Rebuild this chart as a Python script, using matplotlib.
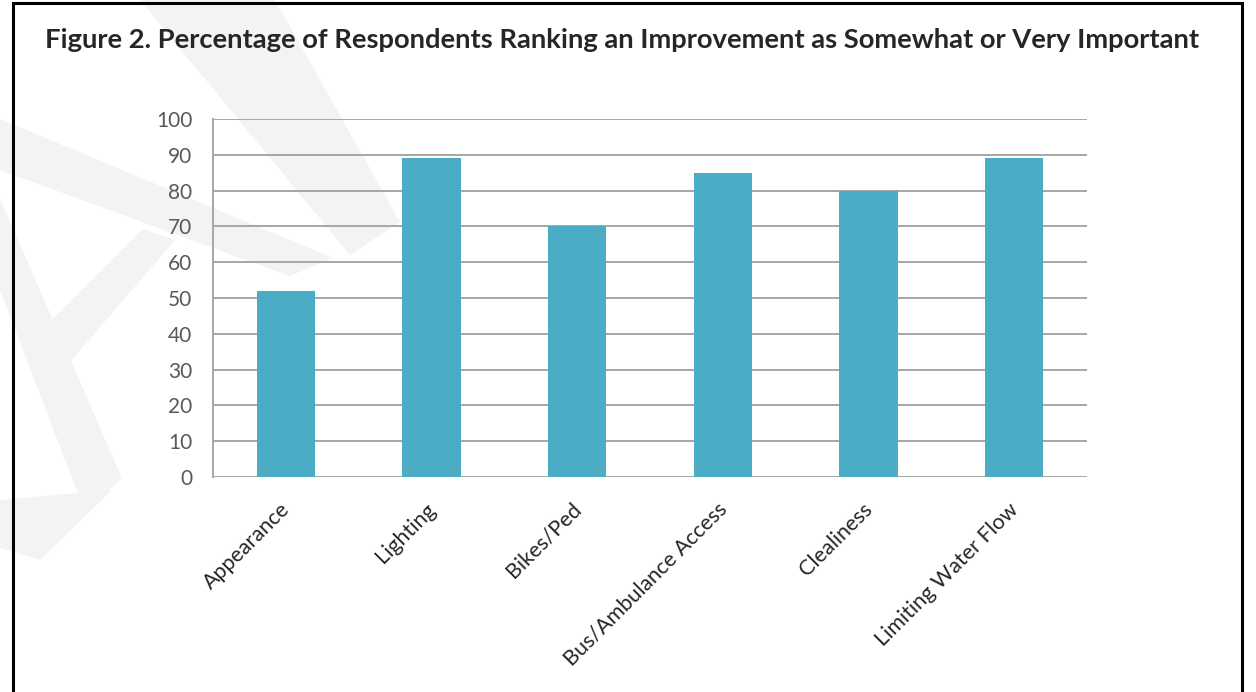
import matplotlib
matplotlib.use("Agg")
import matplotlib.pyplot as plt
from matplotlib.patches import Rectangle, Polygon
from matplotlib.transforms import ScaledTranslation

categories = ["Appearance", "Lighting", "Bikes/Ped", "Bus/Ambulance Access", "Clealiness", "Limiting Water Flow"]
values = [52, 89, 70, 85, 80, 89]
yticks = [0, 10, 20, 30, 40, 50, 60, 70, 80, 90, 100]
title = "Figure 2. Percentage of Respondents Ranking an Improvement as Somewhat or Very Important"

W, H = 1256, 692
fig = plt.figure(figsize=(W / 100, H / 100), dpi=100)
fig.patch.set_facecolor("white")

def px(pts):
    return [(x / W, 1 - y / H) for x, y in pts]

# faint watermark bands (behind the chart)
wm = "#F3F3F3"
for pts in [
    [(140, 0), (275, 0), (400, 222), (350, 255)],
    [(0, 119), (333, 258), (290, 276), (0, 170)],
    [(0, 199), (0, 290), (85, 512), (122, 478)],
    [(0, 500), (0, 548), (40, 560), (112, 490)],
    [(50, 322), (143, 229), (175, 240), (70, 362)],
]:
    fig.patches.append(Polygon(px(pts), closed=True, transform=fig.transFigure,
                               facecolor=wm, edgecolor="none", zorder=-5))

# outer frame
fig.patches.append(Rectangle((13 / W, -0.02), (1242 - 13) / W, 1.02 - 3 / H,
                             transform=fig.transFigure, fill=False, edgecolor="black",
                             linewidth=2.2, zorder=10))

ax = fig.add_axes([213 / W, 1 - 477 / H, (1087 - 213) / W, (477 - 119) / H])
ax.set_facecolor("none")
ax.bar(range(len(categories)), values, width=0.4, color="#4BACC6", zorder=3)
ax.set_xlim(-0.5, len(categories) - 0.5)
ax.set_ylim(0, 100)
ax.set_yticks(yticks)
ax.set_yticklabels([str(t) for t in yticks], fontsize=15, color="#595959", family="Lato")
ax.yaxis.grid(True, color="#A6A6A6", linewidth=1.4, zorder=0)
ax.set_axisbelow(True)
for s in ["top", "right", "bottom"]:
    ax.spines[s].set_visible(False)
ax.spines["left"].set_color("#A6A6A6")
ax.spines["left"].set_linewidth(1.4)
ax.tick_params(axis="y", length=0, pad=15)
ax.tick_params(axis="x", length=0, pad=16)
ax.set_xticks(range(len(categories)))
ax.set_xticklabels(categories, rotation=45, ha="right", va="top", rotation_mode="anchor",
                   fontsize=15.5, color="#262626", family="Lato")
shift = ScaledTranslation(-6 / 100, 0, fig.dpi_scale_trans)
for lbl in ax.get_xticklabels():
    lbl.set_transform(lbl.get_transform() + shift)

fig.text(45 / W, 1 - 40 / H, title, fontsize=19.7, fontweight="bold", color="#262626",
         family="Lato", ha="left", va="center")

fig.savefig("out.png", dpi=100)
